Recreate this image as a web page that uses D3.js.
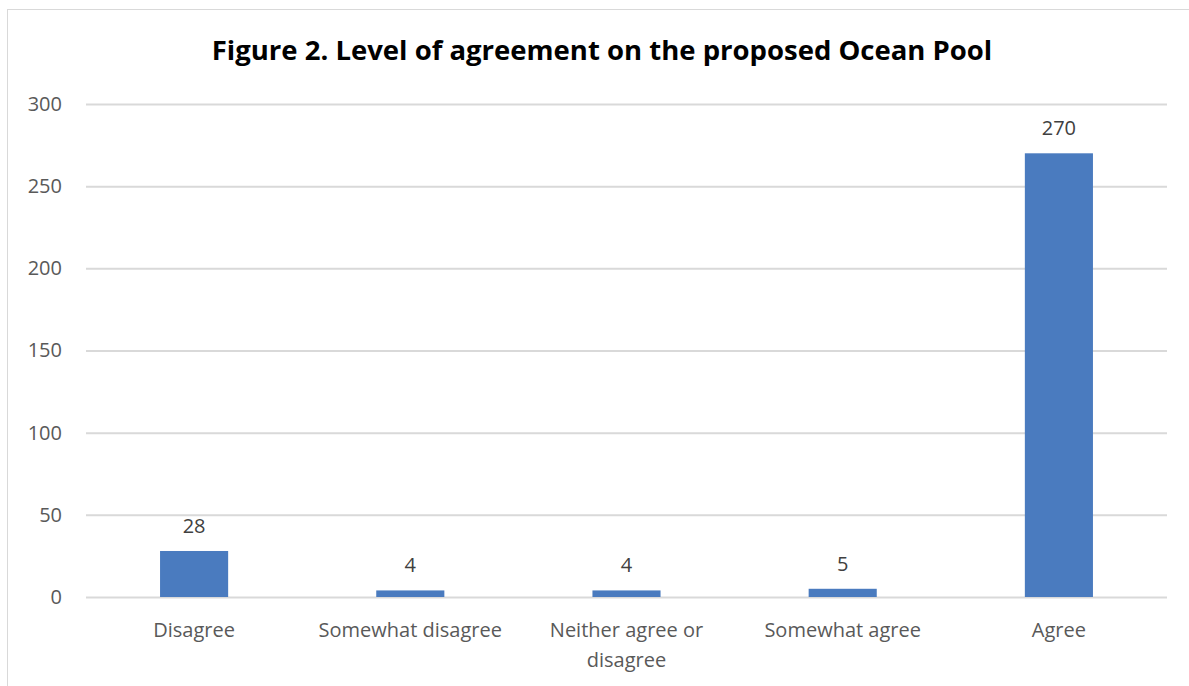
<!DOCTYPE html>
<html><head><meta charset="utf-8">
<script src="https://cdn.jsdelivr.net/npm/d3@7"></script>
<style>body{margin:0;background:#fff;} text{font-family:"Open Sans","Noto Sans",sans-serif;}</style>
</head><body>
<svg id="c" width="1189" height="686"></svg>
<script>
const categories = ["Disagree","Somewhat disagree","Neither agree or disagree","Somewhat agree","Agree"];
const values = [28,4,4,5,270];
const yTicks = [0,50,100,150,200,250,300];
const title = "Figure 2. Level of agreement on the proposed Ocean Pool";

const svg = d3.select("#c");
svg.append("rect").attr("x",7.5).attr("y",9.5).attr("width",1200).attr("height",700)
  .attr("fill","#fff").attr("stroke","#d9d9d9").attr("stroke-width",1);

const x = d3.scaleBand().domain(categories).range([86,1167]).paddingInner(0.685).paddingOuter(0.3425);
const y = d3.scaleLinear().domain([0,300]).range([597,104]);

svg.append("text").attr("x",602).attr("y",60).attr("text-anchor","middle")
  .attr("font-size",27.5).attr("font-weight","bold").attr("fill","#000").text(title);

const gy = svg.append("g").attr("transform","translate(86,0)")
  .call(d3.axisLeft(y).tickValues(yTicks).tickSize(-(1167-86)).tickPadding(24));
gy.select(".domain").remove();
gy.selectAll(".tick line").attr("stroke","#d9d9d9").attr("stroke-width",2);
gy.selectAll(".tick text").attr("fill","#595959").attr("font-size",20).attr("font-family","'Open Sans',sans-serif");

svg.selectAll("rect.bar").data(values).join("rect").attr("class","bar")
  .attr("x",(d,i)=>x(categories[i])).attr("width",x.bandwidth())
  .attr("y",d=>y(d)).attr("height",d=>y(0)-y(d)).attr("fill","#4a7bbf");

svg.selectAll("text.val").data(values).join("text").attr("class","val")
  .attr("x",(d,i)=>x(categories[i])+x.bandwidth()/2).attr("y",d=>y(d)-18)
  .attr("text-anchor","middle").attr("font-size",20).attr("fill","#404040").text(d=>d);

const labelLines = {"Neither agree or disagree":["Neither agree or","disagree"]};
const gx = svg.append("g");
categories.forEach(c=>{
  const lines = labelLines[c] || [c];
  const t = gx.append("text").attr("x",x(c)+x.bandwidth()/2).attr("y",637)
    .attr("text-anchor","middle").attr("font-size",20).attr("fill","#595959");
  lines.forEach((l,i)=>t.append("tspan").attr("x",x(c)+x.bandwidth()/2).attr("dy",i?30:0).text(l));
});
</script>
</body></html>
